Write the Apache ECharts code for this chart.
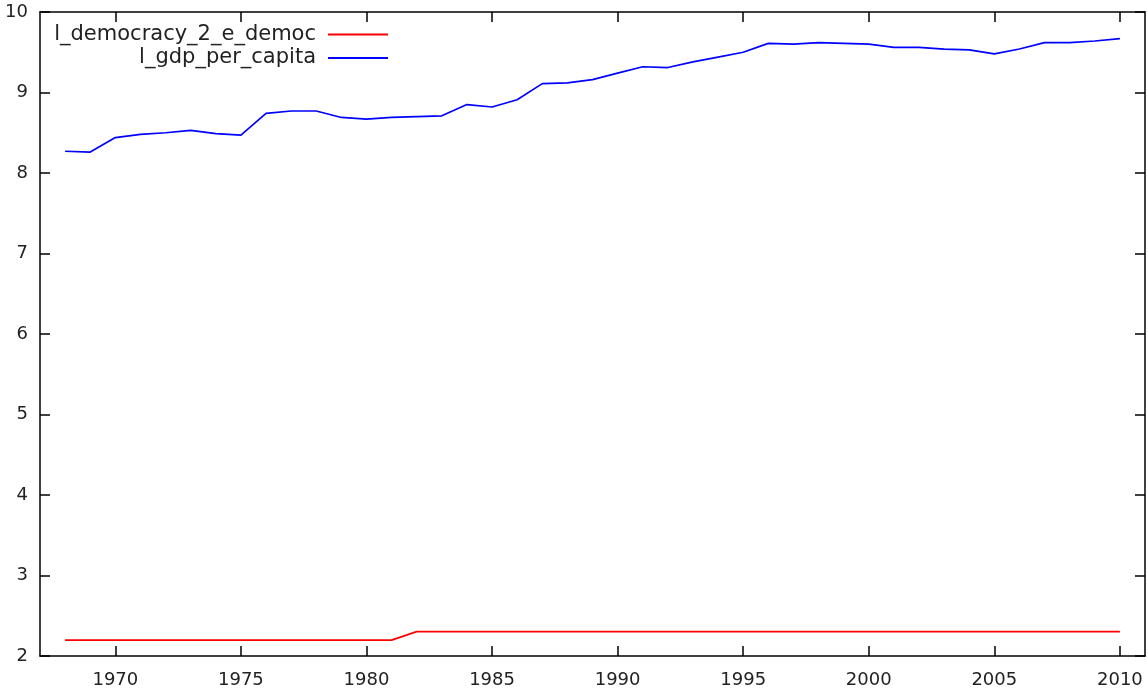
<!DOCTYPE html>
<html>
<head>
<meta charset="utf-8">
<script src="https://cdn.jsdelivr.net/npm/echarts@6/dist/echarts.min.js"></script>
<style>html,body{margin:0;padding:0;background:#fff;}#c{width:1148px;height:691px;}</style>
</head>
<body>
<div id="c"></div>
<script>
const years = [1968,1969,1970,1971,1972,1973,1974,1975,1976,1977,1978,1979,1980,1981,1982,1983,1984,1985,1986,1987,1988,1989,1990,1991,1992,1993,1994,1995,1996,1997,1998,1999,2000,2001,2002,2003,2004,2005,2006,2007,2008,2009,2010];
const democracy = [2.197,2.197,2.197,2.197,2.197,2.197,2.197,2.197,2.197,2.197,2.197,2.197,2.197,2.197,2.303,2.303,2.303,2.303,2.303,2.303,2.303,2.303,2.303,2.303,2.303,2.303,2.303,2.303,2.303,2.303,2.303,2.303,2.303,2.303,2.303,2.303,2.303,2.303,2.303,2.303,2.303,2.303,2.303];
const gdp = [8.27,8.26,8.44,8.48,8.50,8.53,8.49,8.47,8.74,8.77,8.77,8.69,8.67,8.69,8.70,8.71,8.85,8.82,8.91,9.11,9.12,9.16,9.24,9.32,9.31,9.38,9.44,9.50,9.61,9.60,9.62,9.61,9.60,9.56,9.56,9.54,9.53,9.48,9.54,9.62,9.62,9.64,9.67];
const xTicks = [1970,1975,1980,1985,1990,1995,2000,2005,2010];
const names = ['l_democracy_2_e_democ','l_gdp_per_capita'];

const FONT = 'DejaVu Sans';
const chart = echarts.init(document.getElementById('c'), null, {renderer:'canvas'});
const axisLine = {show:true, lineStyle:{color:'#000', width:1.5}};
const tick = {show:true, inside:true, length:10, lineStyle:{color:'#000', width:1.5}};
const legendCommon = {
  orient:'horizontal', right:760, padding:0, align:'right',
  icon:'rect', itemWidth:60, itemHeight:2,
  textStyle:{fontFamily:FONT, fontSize:21, color:'#222', padding:[0,7,0,0]}
};
chart.setOption({
  animation:false,
  backgroundColor:'#fff',
  grid:{left:40, right:3, top:12, bottom:35, containLabel:false},
  legend:[
    Object.assign({data:[names[0]], top:24}, legendCommon),
    Object.assign({data:[names[1]], top:47.5}, legendCommon)
  ],
  xAxis:[
    {type:'value', min:1967, max:2011, position:'bottom',
     axisLine:axisLine,
     axisTick:Object.assign({customValues:xTicks}, tick),
     axisLabel:{customValues:xTicks, formatter:(v)=>String(v), fontFamily:FONT, fontSize:18, color:'#222', margin:15},
     splitLine:{show:false}},
    {type:'value', min:1967, max:2011, position:'top',
     axisLine:axisLine,
     axisTick:Object.assign({customValues:xTicks}, tick),
     axisLabel:{show:false},
     splitLine:{show:false}}
  ],
  yAxis:[
    {type:'value', min:2, max:10, interval:1, position:'left',
     axisLine:axisLine, axisTick:tick,
     axisLabel:{fontFamily:FONT, fontSize:18, color:'#222', margin:12},
     splitLine:{show:false}},
    {type:'value', min:2, max:10, interval:1, position:'right',
     axisLine:axisLine, axisTick:tick,
     axisLabel:{show:false},
     splitLine:{show:false}}
  ],
  series:[
    {name:names[0], type:'line', symbol:'none', showSymbol:false,
     data:years.map((y,i)=>[y,democracy[i]]),
     lineStyle:{color:'#ff0000', width:1.7}, itemStyle:{color:'#ff0000'}},
    {name:names[1], type:'line', symbol:'none', showSymbol:false,
     data:years.map((y,i)=>[y,gdp[i]]),
     lineStyle:{color:'#0000ff', width:1.7}, itemStyle:{color:'#0000ff'}}
  ]
});
</script>
</body>
</html>
